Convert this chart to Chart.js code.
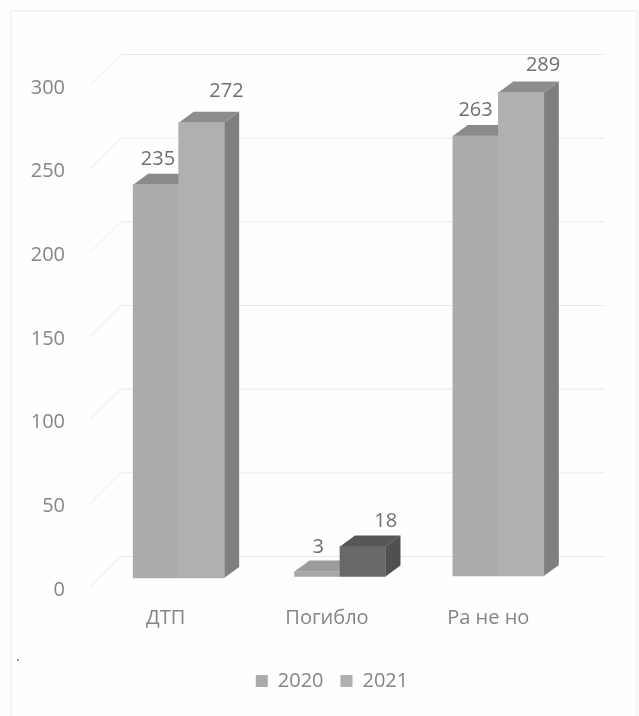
<!DOCTYPE html>
<html>
<head>
<meta charset="utf-8">
<title>ДТП</title>
<script src="https://cdn.jsdelivr.net/npm/chart.js@4/dist/chart.umd.min.js"></script>
<style>
  html, body { margin: 0; padding: 0; background: #fefefe; }
  canvas { display: block; }
</style>
</head>
<body>
<canvas id="myChart" width="639" height="716"></canvas>
<script>
const categories = ['ДТП', 'Погибло', 'Ра не но']
const years = ['2020', '2021']
const values2020 = [235, 3, 263]
const values2021 = [272, 18, 289]

const textColor = '#858585'
const fontName = '"Open Sans", "Noto Sans", sans-serif'

// every group sits a bit off its label, the picture has some perspective
const groupShift = [[13, -12], [13, -13.5], [10, -14]]
const depth = [15, -11]
const wall = [36, -33.5]
// value labels are not placed evenly in the picture: [dx, dy] per year and group
const labelShift = [
    [[2, -25], [1, -24], [0, -26]],
    [[25, -32], [23, -25], [22, -27]]
]

function shade(ctx, pts, color){
    ctx.fillStyle = color
    ctx.beginPath()
    ctx.moveTo(pts[0][0], pts[0][1])
    pts.slice(1).forEach(function(p){ ctx.lineTo(p[0], p[1]) })
    ctx.closePath()
    ctx.fill()
}

const fake3d = {
    id: 'fake3d',
    afterLayout(chart){
        // legend is a bit right of the middle
        chart.legend.left += 35
        chart.legend.right += 35
    },
    beforeDraw(chart){
        const ctx = chart.ctx
        const yScale = chart.scales.y
        ctx.save()
        // paper frame
        ctx.strokeStyle = '#efefef'
        ctx.lineWidth = 1.5
        ctx.beginPath()
        ctx.moveTo(11, 716)
        ctx.lineTo(11, 11)
        ctx.lineTo(637, 11)
        ctx.lineTo(637, 716)
        ctx.stroke()
        // back wall
        ctx.strokeStyle = '#e9e9e9'
        ctx.lineWidth = 1
        yScale.ticks.forEach(function(t){
            const y = yScale.getPixelForValue(t.value)
            ctx.beginPath()
            ctx.moveTo(chart.chartArea.left + 5, y - 3)
            ctx.lineTo(chart.chartArea.left + wall[0], y + wall[1])
            ctx.lineTo(605, y + wall[1])
            ctx.stroke()
        })
        ctx.fillStyle = '#9a9a9a'
        ctx.fillRect(17, 659, 2, 2)
        ctx.restore()
    },
    // own loop, 2020 has to go down first so 2021 covers its side
    beforeDatasetsDraw(chart){
        const ctx = chart.ctx
        chart.data.datasets.forEach(function(ds, d){
            chart.getDatasetMeta(d).data.forEach(function(bar, i){
                const x0 = bar.x - bar.width / 2
                const x1 = bar.x + bar.width / 2
                ctx.save()
                ctx.translate(groupShift[i][0], groupShift[i][1])
                shade(ctx, [[x0, bar.y], [x0 + depth[0], bar.y + depth[1]], [x1 + depth[0], bar.y + depth[1]], [x1, bar.y]], ds.topColor[i])
                shade(ctx, [[x1, bar.y], [x1 + depth[0], bar.y + depth[1]], [x1 + depth[0], bar.base + depth[1]], [x1, bar.base]], ds.sideColor[i])
                bar.draw(ctx)
                ctx.restore()
            })
        })
        ctx.save()
        ctx.fillStyle = '#6f6f6f'
        ctx.font = '20px ' + fontName
        ctx.textAlign = 'center'
        ctx.textBaseline = 'middle'
        chart.data.datasets.forEach(function(ds, d){
            chart.getDatasetMeta(d).data.forEach(function(bar, i){
                const s = labelShift[d][i]
                ctx.fillText(ds.data[i], bar.x + groupShift[i][0] + s[0], bar.y + groupShift[i][1] + s[1])
            })
        })
        ctx.restore()
        return false
    }
}

const config = {
    type: 'bar',
    data: {
        labels: categories,
        datasets: [{
            label: years[0],
            data: values2020,
            barThickness: 45.5,
            backgroundColor: ['#ababab', '#a8a8a8', '#ababab'],
            topColor: ['#8a8a8a', '#9c9c9c', '#8a8a8a'],
            sideColor: ['#7f7f7f', '#8a8a8a', '#7f7f7f']
        }, {
            label: years[1],
            data: values2021,
            barThickness: 45.5,
            backgroundColor: ['#b0b0b0', '#686868', '#b0b0b0'],
            topColor: ['#8d8d8d', '#565656', '#8d8d8d'],
            sideColor: ['#7f7f7f', '#505050', '#7f7f7f']
        }]
    },
    options: {
        responsive: false,
        animation: false,
        layout: {
            padding: { left: 25, right: 70, top: 88, bottom: 15 }
        },
        scales: {
            x: {
                grid: { display: false },
                border: { display: false },
                ticks: { color: textColor, padding: 8, font: { family: fontName, size: 20 }, maxRotation: 0 },
                afterFit(scale){ scale.height = 64 }
            },
            y: {
                min: 0,
                max: 300,
                grid: { display: false },
                border: { display: false },
                ticks: { stepSize: 50, color: textColor, padding: 12, font: { family: fontName, size: 20 } },
                afterFit(scale){ scale.width = 60 }
            }
        },
        plugins: {
            title: { display: false },
            tooltip: { enabled: false },
            legend: {
                position: 'bottom',
                labels: {
                    boxWidth: 12,
                    boxHeight: 12,
                    padding: 17,
                    color: textColor,
                    font: { family: fontName, size: 20 }
                }
            }
        }
    },
    plugins: [fake3d]
}

const myChart = new Chart(document.getElementById('myChart'), config)
</script>
</body>
</html>
